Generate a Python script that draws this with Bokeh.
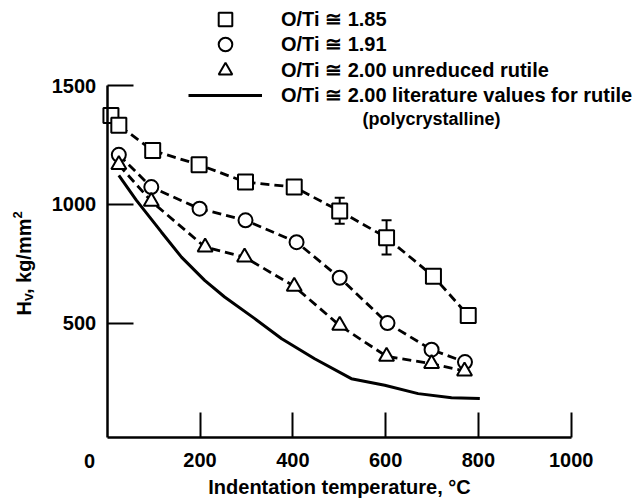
import math
from bokeh.plotting import figure
from bokeh.models import (ColumnDataSource, Legend, LegendItem, Label, FixedTicker,
                          Whisker, TeeHead, Range1d, LinearAxis)
from bokeh.embed import file_html
from bokeh.resources import INLINE

# ---- data -------------------------------------------------------------
x_ticks = [0, 200, 400, 600, 800, 1000]
y_ticks = [500, 1000, 1500]

t_185 = [8, 25, 98, 198, 298, 403, 501, 602, 703, 778]
hv_185 = [1375, 1333, 1227, 1167, 1094, 1073, 972, 860, 697, 532]
err_t_185 = [501, 602]
err_lo_185 = [919, 789]
err_hi_185 = [1028, 933]

t_191 = [25, 95, 199, 298, 408, 501, 604, 699, 771]
hv_191 = [1209, 1073, 982, 933, 841, 691, 500, 388, 336]

t_200 = [25, 95, 211, 296, 403, 501, 602, 699, 770]
hv_200 = [1167, 1013, 820, 778, 655, 490, 360, 329, 298]

t_lit = [25, 63, 117, 160, 210, 253, 318, 376, 447, 526, 598, 670, 742, 803]
hv_lit = [1122, 1017, 883, 778, 680, 610, 519, 434, 350, 266, 238, 203, 186, 182]

series_labels = ["O/Ti \u2245 1.85", "O/Ti \u2245 1.91",
                 "O/Ti \u2245 2.00 unreduced rutile",
                 "O/Ti \u2245 2.00 literature values for rutile"]
label_extra = "(polycrystalline)"
x_title = "Indentation temperature, \u00b0C"
y_title_parts = ["H", "v", ", kg/mm", "2"]

# ---- figure -----------------------------------------------------------
FONT = "Liberation Sans"
X0, X1 = -230, 1132          # visible data window (axis drawn 0..1000)
Y0, Y1 = -243, 1859          # visible data window (axis drawn 17..1500)
Y_AXIS_AT = 17

p = figure(width=632, height=499, output_backend="svg", toolbar_location=None,
           x_range=Range1d(X0, X1), y_range=Range1d(Y0, Y1),
           x_axis_type=None, y_axis_type=None, min_border=0)
p.outline_line_color = None

xaxis = LinearAxis(fixed_location=Y_AXIS_AT, bounds=(x_ticks[0], x_ticks[-1]),
                   ticker=FixedTicker(ticks=x_ticks[1:]))
yaxis = LinearAxis(fixed_location=x_ticks[0], bounds=(Y_AXIS_AT, y_ticks[-1]),
                   ticker=FixedTicker(ticks=y_ticks))
for ax in (xaxis, yaxis):
    ax.axis_line_width = 2.5
    ax.axis_line_color = "black"
    ax.major_tick_line_width = 2
    ax.major_tick_line_color = "black"
    ax.major_tick_out = 0
    ax.minor_tick_out = 0
    ax.minor_tick_in = 0
    ax.major_label_text_font = FONT
    ax.major_label_text_font_size = "20px"
    ax.major_label_text_font_style = "bold"
    ax.major_label_text_color = "black"
xaxis.major_tick_in = 25
xaxis.major_label_standoff = 15
yaxis.major_tick_in = 26
yaxis.major_label_standoff = 11
p.add_layout(xaxis, "below")
p.add_layout(yaxis, "left")

# ---- glyphs -----------------------------------------------------------
DASH = "9 5"
p.line(t_185, hv_185, line_color="black", line_width=2.8, line_dash=DASH)
p.line(t_191, hv_191, line_color="black", line_width=2.8, line_dash=DASH)
p.line(t_200, hv_200, line_color="black", line_width=2.8, line_dash=DASH)
lit = p.line(t_lit, hv_lit, line_color="black", line_width=3)

err_src = ColumnDataSource(dict(base=err_t_185, lower=err_lo_185, upper=err_hi_185))
p.add_layout(Whisker(source=err_src, base="base", lower="lower", upper="upper",
                     line_color="black", line_width=2,
                     upper_head=TeeHead(size=10, line_color="black", line_width=2),
                     lower_head=TeeHead(size=10, line_color="black", line_width=2)))

sq = p.scatter(t_185, hv_185, marker="square", size=15, fill_color="white",
               line_color="black", line_width=2)
ci = p.scatter(t_191, hv_191, marker="circle", size=14, fill_color="white",
               line_color="black", line_width=2)
tr = p.scatter(t_200, hv_200, marker="triangle", size=15, fill_color="white",
               line_color="black", line_width=2)

# one single-entry legend per row, so that rows can sit closer than the glyph box
ROW_BOTTOMS = [463.5, 438.5, 412, 387.5]
for lab, rend, vy in zip(series_labels, [sq, ci, tr, lit], ROW_BOTTOMS):
    p.add_layout(Legend(items=[LegendItem(label=lab, renderers=[rend])],
                        location=(188, vy), glyph_width=74, glyph_height=34,
                        label_height=34, spacing=0, padding=0, margin=0,
                        label_standoff=19, border_line_color=None,
                        background_fill_alpha=0,
                        label_text_font=FONT, label_text_font_size="20px",
                        label_text_font_style="bold", label_text_color="black"))

def txt(text, x, y, size, align="center", baseline="middle", angle=0.0):
    p.add_layout(Label(x=x, y=y, x_units="screen", y_units="screen", text=text,
                       text_align=align, text_baseline=baseline, angle=angle,
                       text_font=FONT, text_font_size=size, text_font_style="bold",
                       text_color="black"))

txt(label_extra, 431, 381, "18px")
txt(str(x_ticks[0]), 89, 39, "20px")
txt(x_title, 339, 13, "20px")

# rotated y-axis title composed of normal, subscript and superscript parts
R = math.pi / 2
txt(y_title_parts[0], 23, 184, "20px", align="left", angle=R)
txt(y_title_parts[1], 27.5, 198.4, "14px", align="left", angle=R)
txt(y_title_parts[2], 23, 205.4, "20px", align="left", angle=R)
txt(y_title_parts[3], 16.5, 281, "13px", align="left", angle=R)

open("out.html", "w").write(file_html(p, INLINE))
